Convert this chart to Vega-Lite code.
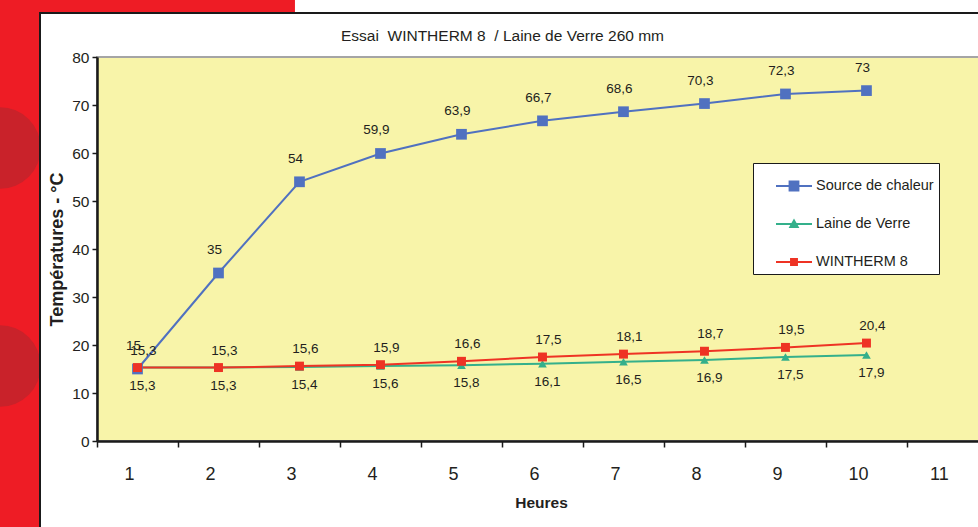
{
  "$schema": "https://vega.github.io/schema/vega-lite/v6.json",
  "width": 881,
  "height": 384,
  "autosize": {"type": "none"},
  "padding": {"left": 97, "top": 57, "right": 0, "bottom": 86},
  "background": "#EE1C25",
  "config": {
    "view": {"stroke": null},
    "font": "Liberation Sans",
    "locale": {"number": {"decimal": ",", "thousands": " ", "grouping": [3], "currency": ["", " €"]}}
  },
  "title": {
    "text": "Essai\u00a0 WINTHERM 8\u00a0 / Laine de Verre 260 mm",
    "anchor": "middle",
    "dx": -35,
    "offset": -44,
    "fontSize": 15.5,
    "fontWeight": "normal",
    "color": "#231F20",
    "font": "Liberation Sans",
    "zindex": 1
  },
  "data": {
    "values": [
      {"h": 1, "serie": "Source de chaleur", "t": 15},
      {"h": 2, "serie": "Source de chaleur", "t": 35},
      {"h": 3, "serie": "Source de chaleur", "t": 54},
      {"h": 4, "serie": "Source de chaleur", "t": 59.9},
      {"h": 5, "serie": "Source de chaleur", "t": 63.9},
      {"h": 6, "serie": "Source de chaleur", "t": 66.7},
      {"h": 7, "serie": "Source de chaleur", "t": 68.6},
      {"h": 8, "serie": "Source de chaleur", "t": 70.3},
      {"h": 9, "serie": "Source de chaleur", "t": 72.3},
      {"h": 10, "serie": "Source de chaleur", "t": 73},
      {"h": 1, "serie": "Laine de Verre", "t": 15.3},
      {"h": 2, "serie": "Laine de Verre", "t": 15.3},
      {"h": 3, "serie": "Laine de Verre", "t": 15.4},
      {"h": 4, "serie": "Laine de Verre", "t": 15.6},
      {"h": 5, "serie": "Laine de Verre", "t": 15.8},
      {"h": 6, "serie": "Laine de Verre", "t": 16.1},
      {"h": 7, "serie": "Laine de Verre", "t": 16.5},
      {"h": 8, "serie": "Laine de Verre", "t": 16.9},
      {"h": 9, "serie": "Laine de Verre", "t": 17.5},
      {"h": 10, "serie": "Laine de Verre", "t": 17.9},
      {"h": 1, "serie": "WINTHERM 8", "t": 15.3},
      {"h": 2, "serie": "WINTHERM 8", "t": 15.3},
      {"h": 3, "serie": "WINTHERM 8", "t": 15.6},
      {"h": 4, "serie": "WINTHERM 8", "t": 15.9},
      {"h": 5, "serie": "WINTHERM 8", "t": 16.6},
      {"h": 6, "serie": "WINTHERM 8", "t": 17.5},
      {"h": 7, "serie": "WINTHERM 8", "t": 18.1},
      {"h": 8, "serie": "WINTHERM 8", "t": 18.7},
      {"h": 9, "serie": "WINTHERM 8", "t": 19.5},
      {"h": 10, "serie": "WINTHERM 8", "t": 20.4}
    ]
  },
  "layer": [
    {
      "data": {"values": [{}]},
      "mark": {"type": "point", "filled": true, "shape": "circle", "color": "#C9222A", "opacity": 1, "size": 6650, "strokeWidth": 0},
      "encoding": {
        "x": {"datum": -0.6975, "type": "quantitative"},
        "y": {"datum": 61.04, "type": "quantitative"}
      }
    },
    {
      "data": {"values": [{}]},
      "mark": {"type": "point", "filled": true, "shape": "circle", "color": "#C9222A", "opacity": 1, "size": 6650, "strokeWidth": 0},
      "encoding": {
        "x": {"datum": -0.6975, "type": "quantitative"},
        "y": {"datum": 15.625, "type": "quantitative"}
      }
    },
    {
      "data": {"values": [{}]},
      "mark": {"type": "rect", "fill": "white", "strokeWidth": 0},
      "encoding": {
        "x": {"datum": 2.944, "type": "quantitative"},
        "x2": {"datum": 12},
        "y": {"datum": 89.17, "type": "quantitative"},
        "y2": {"datum": 91.875}
      }
    },
    {
      "data": {"values": [{}]},
      "mark": {"type": "rect", "fill": "white", "stroke": "#1a1a1a", "strokeWidth": 2},
      "encoding": {
        "x": {"datum": -0.2037, "type": "quantitative"},
        "x2": {"datum": 12},
        "y": {"datum": -20, "type": "quantitative"},
        "y2": {"datum": 89.17}
      }
    },
    {
      "data": {"values": [{}]},
      "mark": {"type": "rect", "fill": "#F8F4A9", "stroke": "#A5A5A5", "strokeWidth": 2},
      "encoding": {
        "x": {"datum": 0.5, "type": "quantitative"},
        "x2": {"datum": 12},
        "y": {"datum": 0, "type": "quantitative"},
        "y2": {"datum": 80}
      }
    },
    {
      "mark": {"type": "line", "strokeWidth": 2},
      "encoding": {
        "x": {
          "field": "h",
          "type": "quantitative",
          "scale": {"domain": [0.5, 11.377], "nice": false, "zero": false},
          "axis": {
            "title": "Heures",
            "titleFont": "Liberation Sans",
            "titleFontWeight": "bold",
            "titleFontSize": 15.5,
            "titleColor": "#231F20",
            "titlePadding": 12,
            "titleX": 444,
            "values": [0.5, 1.5, 2.5, 3.5, 4.5, 5.5, 6.5, 7.5, 8.5, 9.5, 10.5],
            "labelExpr": "format(datum.value + 0.5, 'd')",
            "labelOffset": 32,
            "labelFlush": false,
            "labelOverlap": false,
            "labelFontSize": 18,
            "labelColor": "#231F20",
            "labelPadding": 18,
            "tickSize": 6,
            "tickWidth": 1.5,
            "tickColor": "#1a1a1a",
            "domainColor": "#1a1a1a",
            "domainWidth": 2.5,
            "grid": false,
            "zindex": 1
          }
        },
        "y": {
          "field": "t",
          "type": "quantitative",
          "scale": {"domain": [0, 80], "nice": false},
          "axis": {
            "title": "Températures - °C",
            "titleFont": "Liberation Sans",
            "titleFontWeight": "bold",
            "titleFontSize": 18,
            "titleColor": "#231F20",
            "titlePadding": 5,
            "values": [0, 10, 20, 30, 40, 50, 60, 70, 80],
            "labelFontSize": 15.5,
            "labelColor": "#231F20",
            "labelPadding": 3,
            "tickSize": 5,
            "tickWidth": 1.5,
            "tickColor": "#1a1a1a",
            "domainColor": "#1a1a1a",
            "domainWidth": 2.5,
            "grid": false,
            "zindex": 1
          }
        },
        "color": {
          "field": "serie",
          "type": "nominal",
          "scale": {
            "domain": ["Source de chaleur", "Laine de Verre", "WINTHERM 8"],
            "range": ["#5071C0", "#34B08B", "#EE3324"]
          },
          "legend": {
            "title": null,
            "orient": "none",
            "legendX": 656,
            "legendY": 106,
            "direction": "vertical",
            "fillColor": "white",
            "strokeColor": "#1a1a1a",
            "padding": 5,
            "symbolSize": 1296,
            "symbolOffset": 18,
            "symbolStrokeWidth": 0,
            "labelFontSize": 14.5,
            "labelFont": "Liberation Sans",
            "labelColor": "#231F20",
            "labelOffset": 4,
            "rowPadding": 13,
            "zindex": 1
          }
        }
      }
    },
    {
      "transform": [{"filter": "false"}],
      "mark": {"type": "point", "filled": true, "opacity": 1},
      "encoding": {
        "x": {"field": "h", "type": "quantitative"},
        "y": {"field": "t", "type": "quantitative"},
        "color": {"field": "serie", "type": "nominal"},
        "shape": {
          "field": "serie",
          "type": "nominal",
          "scale": {
            "domain": ["Source de chaleur", "Laine de Verre", "WINTHERM 8"],
            "range": [
              "M-1,-0.055H1V0.055H-1ZM-0.3,-0.3H0.3V0.3H-0.3Z",
              "M-1,-0.055H1V0.055H-1ZM0,-0.3L0.3,0.22H-0.3Z",
              "M-1,-0.055H1V0.055H-1ZM-0.22,-0.22H0.22V0.22H-0.22Z"
            ]
          }
        }
      }
    },
    {
      "transform": [{"filter": "datum.serie === 'Source de chaleur'"}],
      "mark": {"type": "point", "filled": true, "opacity": 1, "shape": "square", "size": 115},
      "encoding": {
        "x": {"field": "h", "type": "quantitative"},
        "y": {"field": "t", "type": "quantitative"},
        "color": {"field": "serie", "type": "nominal"}
      }
    },
    {
      "transform": [{"filter": "datum.serie === 'Laine de Verre'"}],
      "mark": {"type": "point", "filled": true, "opacity": 1, "shape": "triangle-up", "size": 75},
      "encoding": {
        "x": {"field": "h", "type": "quantitative"},
        "y": {"field": "t", "type": "quantitative"},
        "color": {"field": "serie", "type": "nominal"}
      }
    },
    {
      "transform": [{"filter": "datum.serie === 'WINTHERM 8'"}],
      "mark": {"type": "point", "filled": true, "opacity": 1, "shape": "square", "size": 80},
      "encoding": {
        "x": {"field": "h", "type": "quantitative"},
        "y": {"field": "t", "type": "quantitative"},
        "color": {"field": "serie", "type": "nominal"}
      }
    },
    {
      "transform": [{"filter": "datum.serie === 'Source de chaleur'"}],
      "mark": {"type": "text", "dy": -23, "dx": -4, "fontSize": 13.5, "color": "#231F20"},
      "encoding": {
        "x": {"field": "h", "type": "quantitative"},
        "y": {"field": "t", "type": "quantitative"},
        "text": {"field": "t", "type": "quantitative", "format": ".3~g"}
      }
    },
    {
      "transform": [{"filter": "datum.serie === 'Laine de Verre'"}],
      "mark": {"type": "text", "dy": 18, "dx": 5, "fontSize": 13.5, "color": "#231F20"},
      "encoding": {
        "x": {"field": "h", "type": "quantitative"},
        "y": {"field": "t", "type": "quantitative"},
        "text": {"field": "t", "type": "quantitative", "format": ".3~g"}
      }
    },
    {
      "transform": [{"filter": "datum.serie === 'WINTHERM 8'"}],
      "mark": {"type": "text", "dy": -17, "dx": 6, "fontSize": 13.5, "color": "#231F20"},
      "encoding": {
        "x": {"field": "h", "type": "quantitative"},
        "y": {"field": "t", "type": "quantitative"},
        "text": {"field": "t", "type": "quantitative", "format": ".3~g"}
      }
    }
  ]
}
